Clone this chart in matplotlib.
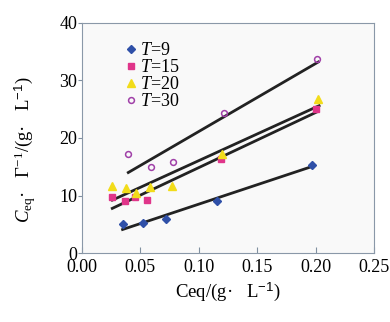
import numpy as np
import matplotlib.pyplot as plt

plt.rcParams['font.family'] = ['Liberation Serif', 'DejaVu Serif']
plt.rcParams['mathtext.fontset'] = 'custom'
plt.rcParams['mathtext.rm'] = 'Liberation Serif'
plt.rcParams['mathtext.it'] = 'Liberation Serif:italic'
plt.rcParams['mathtext.sf'] = 'Liberation Sans'

# data
x9 = [0.035, 0.0525, 0.072, 0.116, 0.197]
y9 = [5.0, 5.2, 5.9, 9.0, 15.3]
x15 = [0.026, 0.037, 0.0454, 0.0554, 0.119, 0.200]
y15 = [9.7, 9.0, 9.8, 9.2, 16.4, 25.1]
x20 = [0.026, 0.038, 0.046, 0.058, 0.077, 0.120, 0.202]
y20 = [11.6, 11.3, 10.5, 11.5, 11.6, 17.2, 26.7]
x30 = [0.0397, 0.059, 0.0776, 0.1216, 0.201]
y30 = [17.2, 14.9, 15.9, 24.3, 33.7]

# fitted lines: slope, intercept, x range
fit_slope = [67.5, 95.7, 92.7, 118.1]
fit_icpt = [1.75, 5.28, 6.79, 9.31]
fit_x0 = [0.0348, 0.026, 0.026, 0.0397]
fit_x1 = [0.1977, 0.2018, 0.203, 0.2023]

fig = plt.figure(figsize=(3.9, 3.22), dpi=100)
ax = fig.add_axes([0.21, 0.214, 0.749, 0.715])
ax.set_facecolor('#f9f9f9')

for s, b, a0, a1 in zip(fit_slope, fit_icpt, fit_x0, fit_x1):
    xx = np.array([a0, a1])
    ax.plot(xx, s * xx + b, color='#222222', lw=2.0, zorder=2)

ax.plot(x9, y9, 'D', color='#2f50a8', ms=4.2, ls='none', label='$T$=9', zorder=3)
ax.plot(x15, y15, 's', color='#e0358a', ms=4.6, ls='none', label='$T$=15', zorder=3)
ax.plot(x20, y20, '^', color='#f2dc1a', ms=5.8, ls='none', label='$T$=20', zorder=3)
ax.plot(x30, y30, 'o', mfc='none', mec='#a040a8', mew=1.1, ms=4.2, ls='none',
        label='$T$=30', zorder=3)

ax.set_xlim(0, 0.25)
ax.set_ylim(0, 40)
ax.set_xticks([0, 0.05, 0.10, 0.15, 0.20, 0.25])
ax.set_xticklabels(['0.00', '0.05', '0.10', '0.15', '0.20', '0.25'])
ax.set_yticks([0, 10, 20, 30, 40])
ax.tick_params(axis='x', direction='in', length=4, color='#8090a0', labelsize=13, pad=4.5)
ax.tick_params(axis='y', direction='out', length=3, color='#8090a0', labelsize=13, pad=0.5)
for sp in ax.spines.values():
    sp.set_color('#8a98a8')

ax.set_xlabel('Ceq/(g·   L$^{\\mathsf{ -1}}$)', fontsize=13.5)
ax.xaxis.set_label_coords(0.5, -0.12)
ax.set_ylabel('$C_{\\mathrm{eq}}$·   Γ$^{\\mathrm{ -1}}$/(g·   L$^{\\mathsf{ -1}}$)', fontsize=13.5)
ax.yaxis.set_label_coords(-0.15, 0.45)

ax.legend(loc='upper left', bbox_to_anchor=(0.1, 0.97), frameon=False, fontsize=13,
          handletextpad=0.1, labelspacing=0.0, handlelength=0.8, borderpad=0.2)

fig.savefig('out.png', dpi=100)
